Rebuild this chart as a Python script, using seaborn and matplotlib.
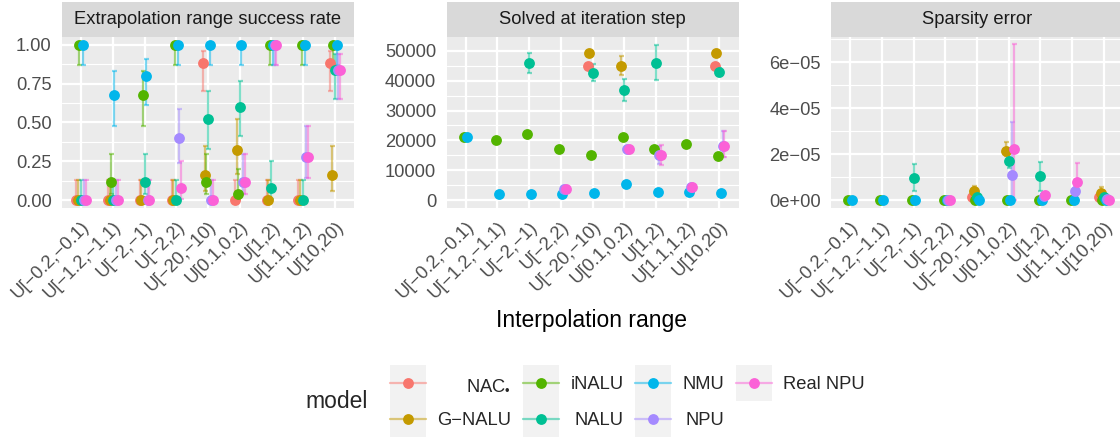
import numpy as np
import pandas as pd
import matplotlib
matplotlib.use("Agg")
import matplotlib.pyplot as plt
import seaborn as sns
from matplotlib.ticker import MultipleLocator, FuncFormatter
from matplotlib.patches import Rectangle
from matplotlib.lines import Line2D
from matplotlib.legend_handler import HandlerTuple, HandlerLine2D

# ---------------- data ----------------
ranges = ["U[−0.2,−0.1)", "U[−1.2,−1.1)", "U[−2,−1)", "U[−2,2)", "U[−20,−10)",
          "U[0.1,0.2)", "U[1,2)", "U[1.1,1.2)", "U[10,20)"]
models = ["NAC•", "G−NALU", "iNALU", "NALU", "NMU", "NPU", "Real NPU"]
legend_labels = ["NAC$_{\u2022}$", "G−NALU", "iNALU", "NALU", "NMU", "NPU", "Real NPU"]
colors = ["#F8766D", "#C49A00", "#53B400", "#00C094", "#00B6EB", "#A58AFF", "#FB61D7"]
panel_titles = ["Extrapolation range success rate", "Solved at iteration step", "Sparsity error"]

N = None
# Panel 1: success rate (rows = models, cols = ranges)
success_mid = [
    [0, 0, 0, 0, 0.88, 0, 0, 0, 0.88],
    [0, 0, 0, 0, 0.16, 0.32, 0, 0, 0.16],
    [1, 0.12, 0.68, 1, 0.12, 0.04, 1, 1, 1],
    [0, 0, 0.12, 0, 0.52, 0.60, 0.08, 0, 0.84],
    [1, 0.68, 0.80, 1, 1, 1, 1, 1, 1],
    [0, 0, 0, 0.40, 0, 0.12, 1, 0.28, 0.84],
    [0, 0, 0, 0.08, 0, 0.12, 1, 0.28, 0.84],
]
success_lo = [
    [0, 0, 0, 0, 0.70, 0, 0, 0, 0.70],
    [0, 0, 0, 0, 0.06, 0.17, 0, 0, 0.06],
    [0.87, 0.04, 0.48, 0.87, 0.04, 0.00, 0.87, 0.87, 0.87],
    [0, 0, 0.04, 0, 0.33, 0.41, 0.01, 0, 0.65],
    [0.87, 0.48, 0.61, 0.87, 0.87, 0.87, 0.87, 0.87, 0.87],
    [0, 0, 0, 0.24, 0, 0.04, 0.87, 0.14, 0.65],
    [0, 0, 0, 0.01, 0, 0.04, 0.87, 0.14, 0.65],
]
success_hi = [
    [0.13, 0.13, 0.13, 0.13, 0.96, 0.13, 0.13, 0.13, 0.96],
    [0.13, 0.13, 0.13, 0.13, 0.35, 0.52, 0.13, 0.13, 0.35],
    [1, 0.30, 0.83, 1, 0.30, 0.20, 1, 1, 1],
    [0.13, 0.13, 0.30, 0.13, 0.70, 0.77, 0.25, 0.13, 0.94],
    [1, 0.83, 0.91, 1, 1, 1, 1, 1, 1],
    [0.13, 0.13, 0.13, 0.59, 0.13, 0.30, 1, 0.48, 0.94],
    [0.13, 0.13, 0.13, 0.25, 0.13, 0.30, 1, 0.48, 0.94],
]

# Panel 2: solved at iteration step
iter_mid = [
    [N, N, N, N, 45000, N, N, N, 45000],
    [N, N, N, N, 49200, 45000, N, N, 49200],
    [21000, 20000, 22200, 17000, 15000, 21000, 17000, 18900, 14800],
    [N, N, 46000, N, 42700, 37000, 46000, N, 43000],
    [21000, 2000, 2000, 2250, 2450, 5450, 2800, 2900, 2450],
    [N, N, N, 3800, N, 17000, 15000, 4300, 18200],
    [N, N, N, 3900, N, 17000, 15100, 4400, 18300],
]
iter_lo = [
    [N, N, N, N, 44300, N, N, N, 44300],
    [N, N, N, N, 48400, 41800, N, N, 48300],
    [20500, 19500, 21700, 16500, 14500, 20500, 16500, 18400, 14300],
    [N, N, 42600, N, 39800, 33300, 40200, N, 41500],
    [20700, 1700, 1700, 1950, 2150, 5150, 2500, 2600, 2150],
    [N, N, N, 3000, N, 16000, 12000, 3600, 14500],
    [N, N, N, 3000, N, 16000, 11800, 3700, 14600],
]
iter_hi = [
    [N, N, N, N, 45700, N, N, N, 45700],
    [N, N, N, N, 50000, 48200, N, N, 50300],
    [21500, 20500, 22700, 17500, 15500, 21500, 17500, 19400, 15300],
    [N, N, 49400, N, 45700, 40700, 52000, N, 44200],
    [21300, 2300, 2300, 2550, 2750, 5750, 3100, 3200, 2750],
    [N, N, N, 4600, N, 18000, 18200, 5000, 23000],
    [N, N, N, 4800, N, 18000, 18500, 5100, 23200],
]

# Panel 3: sparsity error, in units of 1e-5
sparsity_mid_e5 = [
    [N, N, N, N, 0.16, N, N, N, 0.16],
    [N, N, N, N, 0.38, 2.14, N, N, 0.33],
    [0, 0, 0, 0, 0, 0, 0, 0, 0],
    [N, N, 0.95, N, 0.12, 1.71, 1.04, N, 0.13],
    [0, 0, 0, 0, 0, 0, 0, 0, 0],
    [N, N, N, 0.0, N, 1.11, 0.20, 0.38, 0.05],
    [N, N, N, 0.0, N, 2.23, 0.23, 0.78, 0.02],
]
sparsity_lo_e5 = [
    [N, N, N, N, 0.10, N, N, N, 0.10],
    [N, N, N, N, 0.16, 1.90, N, N, 0.15],
    [0, 0, 0, 0, 0, 0, 0, 0, 0],
    [N, N, 0.40, N, 0.05, 1.39, 0.42, N, 0.05],
    [0, 0, 0, 0, 0, 0, 0, 0, 0],
    [N, N, N, 0.0, N, 0.0, 0.10, 0.20, 0.0],
    [N, N, N, 0.0, N, 0.0, 0.10, 0.0, 0.0],
]
sparsity_hi_e5 = [
    [N, N, N, N, 0.22, N, N, N, 0.22],
    [N, N, N, N, 0.60, 2.54, N, N, 0.57],
    [0, 0, 0, 0, 0, 0, 0, 0, 0],
    [N, N, 1.56, N, 0.20, 2.04, 1.65, N, 0.20],
    [0, 0, 0, 0, 0, 0, 0, 0, 0],
    [N, N, N, 0.0, N, 3.38, 0.30, 0.56, 0.10],
    [N, N, N, 0.0, N, 6.77, 0.36, 1.63, 0.05],
]
sparsity_unit = 1e-5

y_limits = [(-0.05, 1.05), (-2600, 54600), (-3.37e-6, 7.09e-5)]
y_major = [0.25, 10000, 2e-5]
y_minor = [0.125, 5000, 1e-5]


def long_frame(mid, lo, hi, scale=1.0):
    rows = []
    for m, mv, lv, hv in zip(models, mid, lo, hi):
        for r, v, l, h in zip(ranges, mv, lv, hv):
            if v is not None:
                rows.append((r, m, v * scale, l * scale, h * scale))
    return pd.DataFrame(rows, columns=["range", "model", "value", "lo", "hi"])


frames = [
    long_frame(success_mid, success_lo, success_hi),
    long_frame(iter_mid, iter_lo, iter_hi),
    long_frame(sparsity_mid_e5, sparsity_lo_e5, sparsity_hi_e5, sparsity_unit),
]

fmt_funcs = [
    lambda v, p: f"{v:.2f}",
    lambda v, p: f"{v:.0f}",
    lambda v, p: f"{v:.0e}".replace("-", "\u2212"),
]

# ---------------- style ----------------
sns.set_style("white")
plt.rcParams["font.family"] = ["Liberation Sans", "DejaVu Sans"]
plt.rcParams["mathtext.fontset"] = "custom"
plt.rcParams["mathtext.rm"] = "Liberation Sans"
plt.rcParams["mathtext.default"] = "regular"

W, H, DPI = 1120, 437, 150
fig = plt.figure(figsize=(W / DPI, H / DPI), dpi=DPI)

panel_lefts = [62, 446.5, 831]
panel_w = 292
panel_top, panel_bot = 37, 208
strip_top = 2
palette = dict(zip(models, colors))
dodge = 0.3
ms = 5.2
lw = 1.07

for k in range(3):
    ax = fig.add_axes([panel_lefts[k] / W, 1 - panel_bot / H, panel_w / W,
                       (panel_bot - panel_top) / H])
    df = frames[k]
    sns.pointplot(data=df, x="range", y="value", hue="model", order=ranges,
                  hue_order=models, palette=palette, dodge=dodge, errorbar=None,
                  linestyle="none", marker="o", markersize=ms, markeredgewidth=0,
                  legend=False, ax=ax, zorder=3)
    n = len(models)
    for j, m in enumerate(models):
        sub = df[df["model"] == m]
        if sub.empty:
            continue
        xpos = sub["range"].map(ranges.index).to_numpy() + (-dodge / 2 + dodge / (n - 1) * j)
        yv = sub["value"].to_numpy()
        ax.errorbar(xpos, yv, yerr=[yv - sub["lo"].to_numpy(), sub["hi"].to_numpy() - yv],
                    fmt="none", ecolor=colors[j], alpha=0.5, elinewidth=lw,
                    capsize=1.2, capthick=lw, zorder=2)

    ax.set_xlim(-0.6, len(ranges) - 0.4)
    ax.set_ylim(*y_limits[k])
    ax.set_facecolor("#EBEBEB")
    for s in ax.spines.values():
        s.set_visible(False)
    ax.yaxis.set_major_locator(MultipleLocator(y_major[k]))
    ax.yaxis.set_minor_locator(MultipleLocator(y_minor[k]))
    ax.yaxis.set_major_formatter(FuncFormatter(fmt_funcs[k]))
    ax.set_axisbelow(True)
    ax.grid(True, which="major", axis="both", color="white", linewidth=lw, zorder=0)
    ax.grid(True, which="minor", axis="y", color="white", linewidth=lw / 2, zorder=0)
    ax.tick_params(which="major", length=2.75, width=lw, color="#333333",
                   labelsize=8.8, labelcolor="#4D4D4D", pad=2.2)
    ax.tick_params(which="minor", length=0)
    ax.set_xticks(range(len(ranges)))
    ax.set_xticklabels(ranges)
    for lbl in ax.get_xticklabels():
        lbl.set_rotation(45)
        lbl.set_ha("right")
        lbl.set_va("top")
        lbl.set_rotation_mode("anchor")
    ax.set_xlabel("")
    ax.set_ylabel("")

    strip_h = (panel_top - strip_top) / (panel_bot - panel_top)
    ax.add_patch(Rectangle((0, 1), 1, strip_h, transform=ax.transAxes,
                           facecolor="#D9D9D9", edgecolor="none", clip_on=False))
    ax.text(0.5, 1 + strip_h / 2, panel_titles[k], transform=ax.transAxes,
            ha="center", va="center", fontsize=8.8, color="#1A1A1A")

fig.text(592 / W, 1 - 320 / H, "Interpolation range", ha="center", va="center",
         fontsize=11, color="black")


# ---------------- legend ----------------
class CenteredLineHandler(HandlerLine2D):
    """Line/marker key drawn at the vertical centre of the key box."""
    def create_artists(self, legend, orig_handle, xdescent, ydescent, width,
                       height, fontsize, trans):
        arts = super().create_artists(legend, orig_handle, xdescent, ydescent,
                                      width, height, fontsize, trans)
        for a in arts:
            a.set_ydata(np.full_like(np.asarray(a.get_xdata(), float),
                                     height / 2 - ydescent))
        return arts


handles = []
for c in colors:
    bg = Rectangle((0, 0), 1, 1, facecolor="#F2F2F2", edgecolor="none")
    ln = Line2D([], [], color=c, lw=lw, alpha=0.5)
    mk = Line2D([], [], color=c, marker="o", markersize=ms, markeredgewidth=0,
                linestyle="none")
    handles.append((bg, ln, mk))

fs_leg = 8.8
key_len = 17.28 / fs_leg
key_h = (17.28 / fs_leg - 0.35 * 0.7) / 0.65
leg = fig.legend(handles, legend_labels,
                 handler_map={tuple: HandlerTuple(ndivide=1, pad=0),
                              Line2D: CenteredLineHandler()},
                 ncol=4, loc="lower left", bbox_to_anchor=(390 / W, 0),
                 frameon=False, fontsize=fs_leg, handlelength=key_len,
                 handleheight=key_h, handletextpad=0.625, columnspacing=0.625,
                 labelspacing=0, borderpad=0, borderaxespad=0)
fig.text(305 / W, 1 - 401 / H, "model", ha="left", va="center", fontsize=11)

# right-align label text within each legend column (as in the reference)
fig.canvas.draw()
renderer = fig.canvas.get_renderer()
p2px = renderer.points_to_pixels(1.0)
base_sep = 0.625 * fs_leg
for col in leg._legend_handle_box.get_children():
    items = col.get_children()
    widths = [it.get_children()[1].get_bbox(renderer).width for it in items]
    maxw = max(widths)
    for it, w in zip(items, widths):
        it.sep = base_sep + (maxw - w) / p2px

fig.savefig("out.png", dpi=DPI)
